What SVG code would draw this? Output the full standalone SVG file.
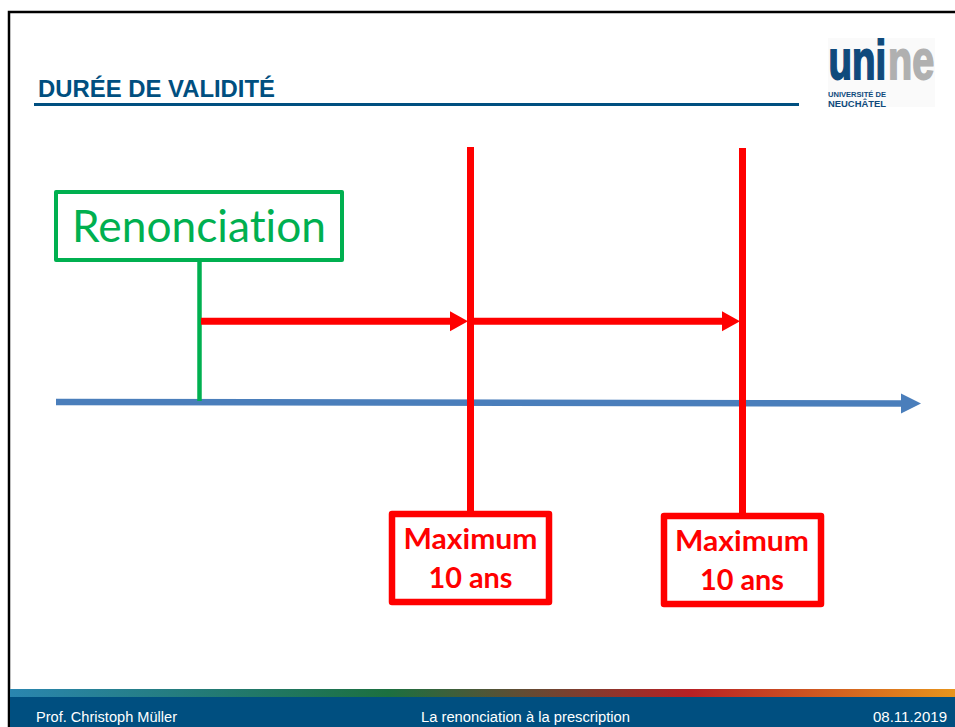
<svg xmlns="http://www.w3.org/2000/svg" width="955" height="727" viewBox="0 0 955 727">
<defs>
<linearGradient id="band" x1="0" x2="1" y1="0" y2="0">
<stop offset="0" stop-color="#2a86b0"/><stop offset="0.4" stop-color="#1c7040"/><stop offset="0.72" stop-color="#b82025"/><stop offset="1" stop-color="#e8951c"/>
</linearGradient>
<marker id="ar" markerUnits="userSpaceOnUse" markerWidth="20" markerHeight="20" refX="2" refY="10" orient="auto" overflow="visible"><path d="M0 0L18 10L0 20Z" fill="#ff0000"/></marker>
<marker id="ab" markerUnits="userSpaceOnUse" markerWidth="20" markerHeight="22" refX="1" refY="11" orient="auto" overflow="visible"><path d="M0 1L20 11L0 21Z" fill="#4a7ebb"/></marker>
</defs>
<style>
.sans{font-family:"Liberation Sans",Arial,sans-serif}
.cal{font-family:Lato,"Open Sans",sans-serif;font-variant-ligatures:none}
.foot{font-size:14px;fill:#fff}
.red{stroke:#ff0000;fill:none}
.max{font-size:29px;font-weight:700;fill:#ff0000;text-anchor:middle}
</style>
<rect width="955" height="727" fill="#fff"/>
<path d="M9 727V12H955" fill="none" stroke="#000" stroke-width="2.5"/>
<g id="title">
<text x="38" y="97" class="sans" font-size="23" font-weight="700" fill="#004f80" textLength="237" lengthAdjust="spacingAndGlyphs">DURÉE DE VALIDITÉ</text>
<rect x="34" y="103" width="765" height="3" fill="#004f80"/>
</g>
<g id="logo">
<rect x="828" y="38" width="107" height="69" fill="#fafafa"/>
<text transform="translate(828.500 79) scale(.7 1)" class="sans" font-size="55" font-weight="700" fill="#0f4a7c" stroke="#0f4a7c" stroke-width="1.800">uni</text>
<text transform="translate(888 79) scale(.72 1)" class="sans" font-size="55" font-weight="700" fill="#b0b0b0" stroke="#b0b0b0" stroke-width="1.800">ne</text>
<text x="828" y="97" class="sans" font-size="7.500" font-weight="700" fill="#0f4a7c" textLength="58" lengthAdjust="spacingAndGlyphs">UNIVERSITÉ DE</text>
<text x="828" y="107" class="sans" font-size="9" font-weight="700" fill="#0f4a7c" textLength="58" lengthAdjust="spacingAndGlyphs">NEUCHÂTEL</text>
</g>
<g id="connectors">
<line x1="56" y1="402" x2="902" y2="403.500" stroke="#4a7ebb" stroke-width="6.500" marker-end="url(#ab)"/>
<line x1="199.500" y1="260" x2="199.500" y2="401" stroke="#00b050" stroke-width="4.500"/>
<line x1="470.500" y1="147" x2="470.500" y2="513" class="red" stroke-width="7"/>
<line x1="742.500" y1="148" x2="742.500" y2="515" class="red" stroke-width="7"/>
<line x1="201" y1="321.300" x2="452" y2="321.300" class="red" stroke-width="7" marker-end="url(#ar)"/>
<line x1="472" y1="321.300" x2="724" y2="321.300" class="red" stroke-width="7" marker-end="url(#ar)"/>
</g>
<g id="renonciation">
<rect x="56" y="192" width="286" height="68" fill="#fff" stroke="#00b050" stroke-width="4" stroke-linejoin="round"/>
<text x="199" y="242" class="cal" font-size="44" fill="#00b050" text-anchor="middle" textLength="254" lengthAdjust="spacingAndGlyphs">Renonciation</text>
</g>
<g id="max1">
<rect x="392" y="514" width="157" height="88" fill="#fff" stroke="#ff0000" stroke-width="6.500" stroke-linejoin="round"/>
<text x="470.500" y="549" class="cal max" textLength="134" lengthAdjust="spacingAndGlyphs">Maximum</text>
<text x="470.500" y="587.500" class="cal max" textLength="84" lengthAdjust="spacingAndGlyphs">10 ans</text>
</g>
<g id="max2">
<rect x="664" y="516" width="157" height="88" fill="#fff" stroke="#ff0000" stroke-width="6.500" stroke-linejoin="round"/>
<text x="742" y="551" class="cal max" textLength="134" lengthAdjust="spacingAndGlyphs">Maximum</text>
<text x="742" y="589.500" class="cal max" textLength="84" lengthAdjust="spacingAndGlyphs">10 ans</text>
</g>
<g id="footer">
<rect x="10" y="689" width="945" height="8" fill="url(#band)"/>
<rect x="10" y="697" width="945" height="30" fill="#004f80"/>
<text x="36" y="722" class="sans foot" textLength="141" lengthAdjust="spacingAndGlyphs">Prof. Christoph Müller</text>
<text x="421" y="722" class="sans foot" textLength="209" lengthAdjust="spacingAndGlyphs">La renonciation à la prescription</text>
<text x="873" y="722" class="sans foot" textLength="74" lengthAdjust="spacingAndGlyphs">08.11.2019</text>
</g>
</svg>
